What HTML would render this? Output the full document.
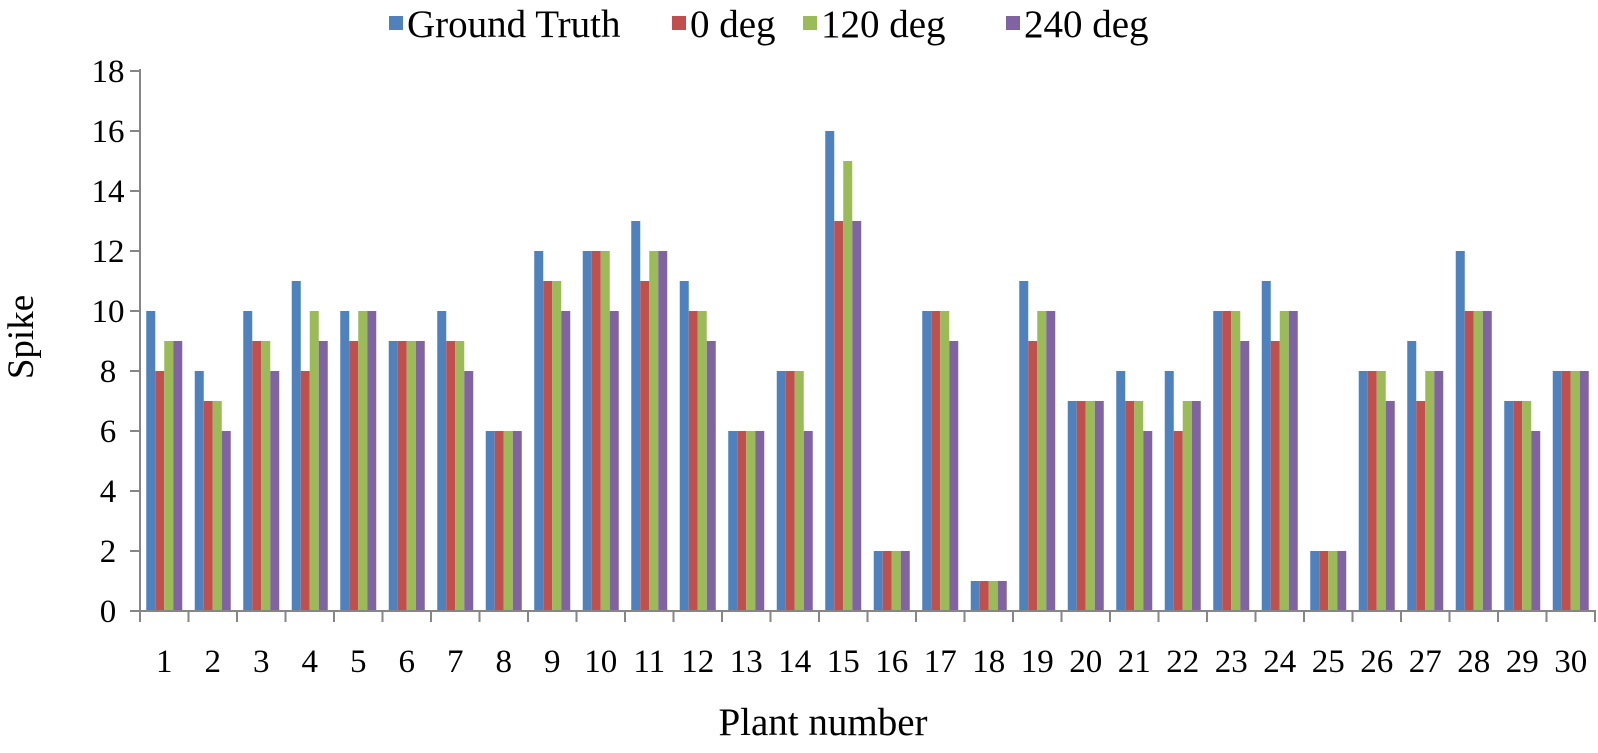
<!DOCTYPE html>
<html><head><meta charset="utf-8"><style>
html,body{margin:0;padding:0;background:#fff;}
svg{display:block;font-family:"Liberation Serif",serif;}
</style></head><body>
<svg id="c" width="1598" height="753" xmlns="http://www.w3.org/2000/svg">
<g font-size="39" fill="#000">
<rect x="389" y="16" width="14" height="14" fill="#4F81BD"/><text x="407" y="37">Ground Truth</text>
<rect x="672" y="16" width="14" height="14" fill="#C0504D"/><text x="690" y="37">0 deg</text>
<rect x="803" y="16" width="14" height="14" fill="#9BBB59"/><text x="821" y="37">120 deg</text>
<rect x="1006" y="16" width="14" height="14" fill="#8064A2"/><text x="1024" y="37">240 deg</text>
</g>
<text x="33" y="337" font-size="37" text-anchor="middle" transform="rotate(-90 33 337)">Spike</text>
<text x="823" y="735" font-size="39" text-anchor="middle">Plant number</text>
<g id="g"></g>
</svg>
<script>
var d=[[10,8,9,9],[8,7,7,6],[10,9,9,8],[11,8,10,9],[10,9,10,10],[9,9,9,9],[10,9,9,8],[6,6,6,6],[12,11,11,10],[12,12,12,10],[13,11,12,12],[11,10,10,9],[6,6,6,6],[8,8,8,6],[16,13,15,13],[2,2,2,2],[10,10,10,9],[1,1,1,1],[11,9,10,10],[7,7,7,7],[8,7,7,6],[8,6,7,7],[10,10,10,9],[11,9,10,10],[2,2,2,2],[8,8,8,7],[9,7,8,8],[12,10,10,10],[7,7,7,6],[8,8,8,8]];
var col=["#4F81BD","#C0504D","#9BBB59","#8064A2"];
var x0=140,y0=611,cw=48.5,u=30,bw=9,s="";
for(var i=0;i<30;i++){for(var j=0;j<4;j++){var h=d[i][j]*u;s+='<rect x="'+(x0+i*cw+6.25+j*bw)+'" y="'+(y0-h)+'" width="'+bw+'" height="'+h+'" fill="'+col[j]+'"/>';}
s+='<text x="'+(x0+i*cw+cw/2)+'" y="672" font-size="33" text-anchor="middle">'+(i+1)+'</text>';}
for(var k=0;k<=9;k++){var y=y0-k*60;s+='<line x1="130" x2="140" y1="'+y+'" y2="'+y+'" stroke="#868686" stroke-width="2"/>';
s+='<text x="108" y="'+(y+11)+'" font-size="33" text-anchor="middle">'+(k*2)+'</text>';}
for(var i=0;i<=30;i++){var x=x0+i*cw;s+='<line x1="'+x+'" x2="'+x+'" y1="'+y0+'" y2="'+(y0+11)+'" stroke="#868686" stroke-width="2"/>';}
s+='<line x1="140" x2="140" y1="69" y2="612" stroke="#868686" stroke-width="2"/>';
s+='<line x1="139" x2="1596" y1="'+y0+'" y2="'+y0+'" stroke="#868686" stroke-width="2"/>';
document.getElementById("g").innerHTML=s;
</script>
</body></html>
